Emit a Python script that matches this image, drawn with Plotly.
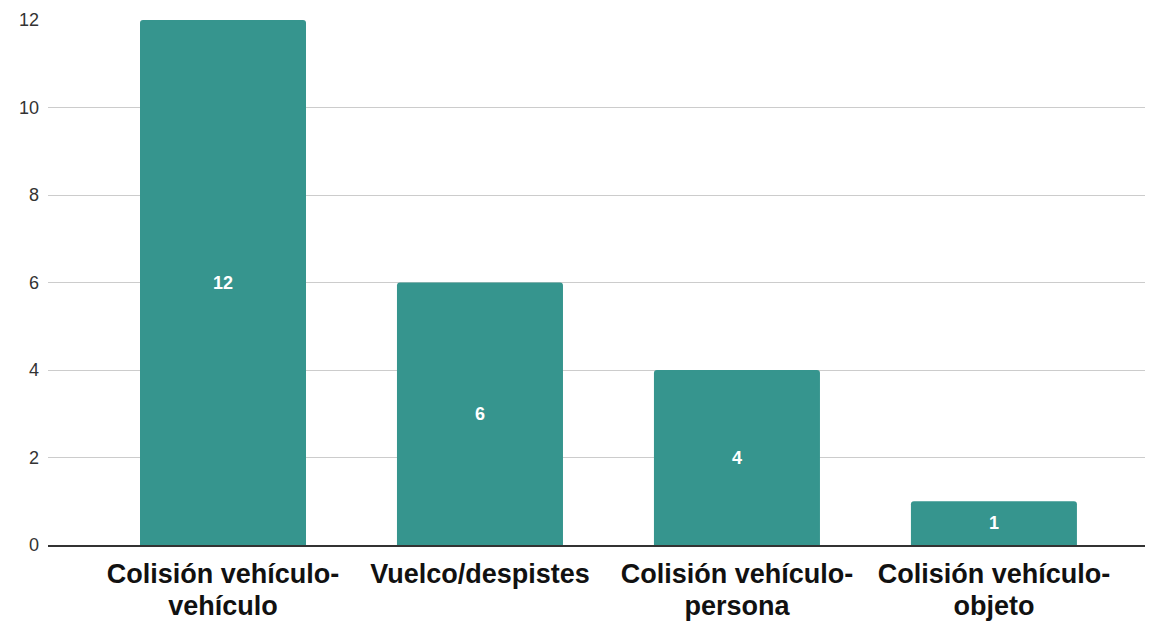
import plotly.graph_objects as go

categories = ["Colisión vehículo-vehículo", "Vuelco/despistes", "Colisión vehículo-persona", "Colisión vehículo-objeto"]
label_line1 = ["Colisión vehículo-", "Vuelco/despistes", "Colisión vehículo-", "Colisión vehículo-"]
label_line2 = ["vehículo", "", "persona", "objeto"]
values = [12, 6, 4, 1]
y_ticks = [0, 2, 4, 6, 8, 10, 12]

positions = list(range(len(categories)))
x_range = [-0.681, 3.619]
label_font = dict(family="Liberation Sans, Arial", size=27, color="#111111", weight="bold")

fig = go.Figure()
fig.add_trace(go.Bar(
    x=positions,
    y=values,
    width=0.646,
    marker=dict(color="#36958E", cornerradius=3, line=dict(width=0)),
    text=[str(v) for v in values],
    textposition="inside",
    insidetextanchor="middle",
    textfont=dict(family="Liberation Sans, Arial", size=18, color="white", weight="bold"),
    hovertext=categories,
))
# invisible helper trace so the second-line label axis is drawn
fig.add_trace(go.Scatter(
    x=positions, y=values, xaxis="x2", yaxis="y",
    mode="markers", marker=dict(opacity=0), hoverinfo="skip", showlegend=False,
))

fig.update_layout(
    width=1153, height=621,
    margin=dict(l=40, r=8, t=12, b=84),
    plot_bgcolor="white", paper_bgcolor="white",
    showlegend=False,
    xaxis=dict(
        range=x_range,
        tickmode="array",
        tickvals=positions,
        ticktext=label_line1,
        tickfont=label_font,
        showgrid=False, zeroline=False,
        showline=True, linecolor="#333333", linewidth=1.5,
        ticks="", ticklabelstandoff=4, automargin=False,
    ),
    xaxis2=dict(
        overlaying="x", anchor="y", side="bottom",
        range=x_range,
        tickmode="array",
        tickvals=positions,
        ticktext=label_line2,
        tickfont=label_font,
        showgrid=False, zeroline=False, showline=False,
        ticks="", ticklabelstandoff=42, automargin=False,
    ),
    yaxis=dict(
        range=[0, 12],
        tickvals=y_ticks,
        tickfont=dict(family="Liberation Sans, Arial", size=18, color="#333333"),
        gridcolor="#cccccc", gridwidth=1,
        zeroline=False, showline=False,
        ticks="", ticklabelstandoff=8, automargin=False,
    ),
)

fig.write_html("out.html")
